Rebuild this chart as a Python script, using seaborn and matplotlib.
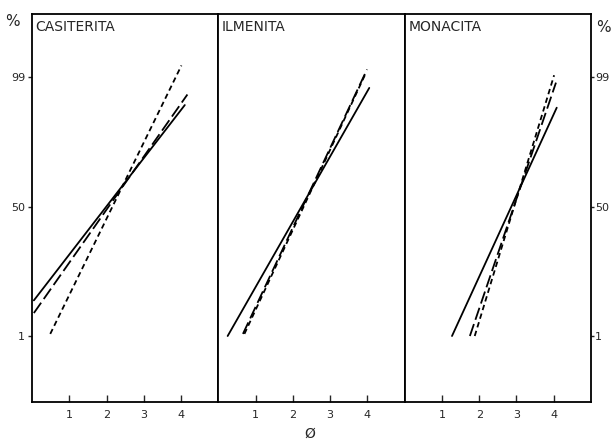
"""
Cumulative grain-size curves (phi scale) for three heavy minerals.
Three panels side by side, one per mineral, three lines each.
"""

import pandas as pd
import matplotlib
matplotlib.use("Agg")
import matplotlib.pyplot as plt
import seaborn as sns

#data (start and end point of each line)
minerals = ["CASITERITA", "ILMENITA", "MONACITA"]

phi_solid = [[0.05, 4.10], [0.25, 4.05], [1.27, 4.08]]
pct_solid = [[14.5, 88.5], [1.0, 95.0], [1.0, 87.5]]

phi_long = [[0.05, 4.17], [0.66, 3.99], [1.75, 4.06]]
pct_long = [[9.7, 92.5], [1.8, 102.0], [1.0, 97.0]]

phi_short = [[0.49, 4.01], [0.70, 3.97], [1.88, 4.01]]
pct_short = [[1.8, 103.5], [1.8, 101.0], [1.0, 99.8]]

x_ticks = [1, 2, 3, 4]
y_ticks = [1, 50, 99]

#styles per series
series = [
    ("solid", phi_solid, pct_solid, "-"),
    ("long", phi_long, pct_long, (0, (7, 2.5))),
    ("short", phi_short, pct_short, (0, (3, 2))),
]

sns.set_style("ticks")
plt.rcParams["font.family"] = ["DejaVu Sans"]

fig = plt.figure(figsize=(6.11, 4.41), dpi=100)
left, right = 32 / 611, 591 / 611
bottom, top = 1 - 402 / 441, 1 - 14 / 441
w = (right - left) / 3

for i, name in enumerate(minerals):
    ax = fig.add_axes([left + i * w, bottom, w, top - bottom])
    for key, xs, ys, ls in series:
        df = pd.DataFrame({"phi": xs[i], "pct": ys[i]})
        sns.lineplot(data=df, x="phi", y="pct", ax=ax, color="black",
                     linestyle=ls, linewidth=1.3, sort=False)
    ax.set_xlim(0, 5)
    ax.set_ylim(-24, 123)
    ax.set_xlabel("")
    ax.set_ylabel("")
    ax.set_xticks(x_ticks)
    ax.set_xticklabels([str(t) for t in x_ticks], fontsize=8)
    ax.tick_params(axis="x", direction="in", length=5, width=1, pad=6)
    if i == 0:
        ax.set_yticks(y_ticks)
        ax.set_yticklabels([str(t) for t in y_ticks], fontsize=8)
        ax.tick_params(axis="y", direction="out", length=3, width=1, pad=2)
    elif i == 2:
        ax.yaxis.tick_right()
        ax.set_yticks(y_ticks)
        ax.set_yticklabels([str(t) for t in y_ticks], fontsize=8)
        ax.tick_params(axis="y", direction="out", length=2, width=1, pad=1)
    else:
        ax.set_yticks([])
    for sp in ax.spines.values():
        sp.set_linewidth(1.3)
        sp.set_color("black")
    ax.text(0.02, 0.985, name, transform=ax.transAxes, ha="left", va="top",
            fontsize=10)

fig.text(12 / 611, 1 - 22 / 441, "%", ha="center", va="center", fontsize=11)
fig.text(603 / 611, 1 - 28 / 441, "%", ha="center", va="center", fontsize=11)
fig.text(310 / 611, 1 - 434 / 441, "Ø", ha="center", va="center", fontsize=10)

fig.savefig("out.png", dpi=100)
